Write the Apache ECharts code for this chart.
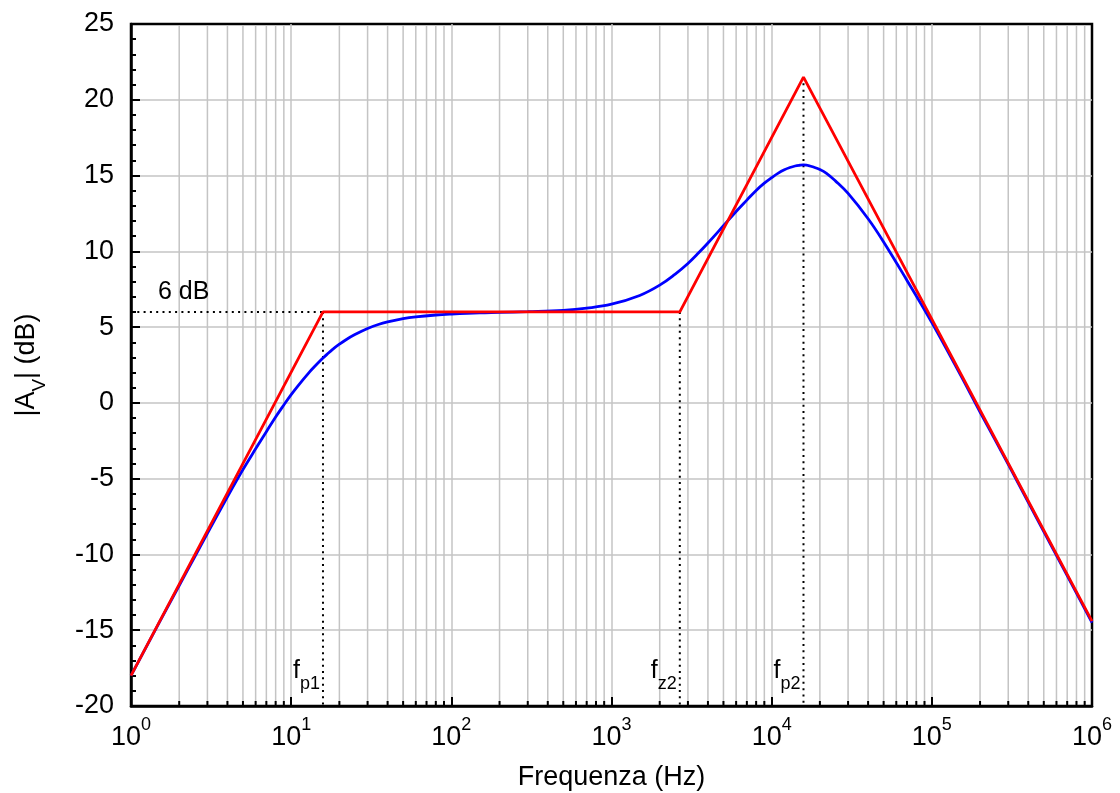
<!DOCTYPE html>
<html>
<head>
<meta charset="utf-8">
<script src="https://cdn.jsdelivr.net/npm/echarts@6/dist/echarts.min.js"></script>
<style>
  html, body { margin: 0; background: #fff; }
  #chart { width: 1120px; height: 793px; }
</style>
</head>
<body>
<div id="chart"></div>
<script>
// frequenze (Hz) e guadagno reale (dB)
var freqReal = [1, 1.5, 2, 2.5, 3, 4, 5, 6, 7, 8, 9, 10, 11, 13, 14, 15.8, 17, 18, 20, 22, 25, 30, 35, 40,
  50, 60, 80, 100, 150, 200, 300, 500, 700, 1000, 1500, 2000, 2500, 3000, 3500, 4000, 5000, 6000, 7000,
  8000, 9000, 10000, 11000, 12000, 13000, 14000, 15000, 15800, 16500, 17000, 18000, 20000, 22000, 25000, 30000,
  40000, 50000, 70000, 100000, 150000, 200000, 300000, 500000, 700000, 1000000];
var gainReal = [-18.0, -14.5, -12.05, -10.15, -8.6, -6.2, -4.4, -3.03, -1.9, -0.93, -0.14, 0.54, 1.11, 2.03, 2.4, 2.96, 3.27, 3.5, 3.87, 4.17, 4.51, 4.91, 5.17, 5.34,
  5.56, 5.68, 5.8, 5.86, 5.94, 5.97, 6.02, 6.11, 6.25, 6.51, 7.09, 7.77, 8.5, 9.2, 9.9, 10.55, 11.69, 12.63, 13.38,
  14.02, 14.5, 14.86, 15.16, 15.38, 15.53, 15.63, 15.68, 15.7, 15.69, 15.66, 15.58, 15.4, 15.15, 14.65, 13.82,
  12.15, 10.62, 8.08, 5.3, 1.9, -0.6, -4.05, -8.5, -11.4, -14.5];

// diagramma asintotico
var freqAsym = [1, 15.8, 2670, 15800, 1000000];
var gainAsym = [-18, 6, 6, 21.5, -14.4];

// frequenze notevoli
var fp1 = 15.8, fz2 = 2670, fp2 = 15800;
var midGain = 6, peakGain = 21.5;

var yMin = -20, yMax = 25, yStep = 5;
var decades = [1, 10, 100, 1000, 10000, 100000];
var mantissas = [2, 3, 4, 5, 6, 7, 8, 9];

var FONT = '"Liberation Sans", Arial, Helvetica, sans-serif';

var minorFreqs = [];
decades.forEach(function (d) {
  mantissas.forEach(function (m) { minorFreqs.push([d * m, 0]); });
});

function pairs(xs, ys) {
  return xs.map(function (x, i) { return [x, ys[i]]; });
}

function guide(points) {
  return {
    type: 'line', data: points, symbol: 'none', silent: true, z: 2,
    lineStyle: { color: '#000', width: 2, type: [2, 4.3] }
  };
}

var chart = echarts.init(document.getElementById('chart'));

chart.setOption({
  animation: false,
  grid: {
    left: 131, right: 28, top: 24, bottom: 87, outerBoundsMode: 'none', containLabel: false,
    show: true, borderColor: '#000', borderWidth: 2.5, backgroundColor: 'transparent'
  },
  xAxis: {
    type: 'log', logBase: 10, min: 1, max: 1000000,
    name: 'Frequenza (Hz)', nameLocation: 'middle', nameGap: 58,
    nameTextStyle: { fontFamily: FONT, fontSize: 27, color: '#000' },
    axisLine: { show: true, onZero: false, lineStyle: { color: '#000', width: 2.5 } },
    axisTick: { show: true, inside: true, length: 9, lineStyle: { color: '#000', width: 2 } },
    splitLine: { show: true, showMinLine: false, showMaxLine: false, lineStyle: { color: '#c4c4c4', width: 1.5 } },
    axisLabel: {
      margin: 10, showMinLabel: true, showMaxLabel: true,
      formatter: function (v) {
        return '{b|10}{e|' + Math.round(Math.log10(v)) + '}';
      },
      rich: {
        b: { fontFamily: FONT, fontSize: 27, color: '#000', lineHeight: 35, verticalAlign: 'bottom' },
        e: { fontFamily: FONT, fontSize: 18, color: '#000', lineHeight: 35, verticalAlign: 'top' }
      }
    }
  },
  yAxis: {
    type: 'value', min: yMin, max: yMax, interval: yStep,
    name: '{a||A}{s|V}{a|| (dB)}', nameLocation: 'middle', nameGap: 82, nameRotate: 90,
    nameTextStyle: {
      rich: {
        a: { fontFamily: FONT, fontSize: 27, color: '#000', lineHeight: 36, verticalAlign: 'top' },
        s: { fontFamily: FONT, fontSize: 19, color: '#000', lineHeight: 36, verticalAlign: 'bottom' }
      }
    },
    axisLine: { show: true, onZero: false, lineStyle: { color: '#000', width: 2.5 } },
    axisTick: { show: true, inside: true, length: 9, lineStyle: { color: '#000', width: 2 } },
    minorTick: { show: true, splitNumber: 5, length: 5, lineStyle: { color: '#000', width: 2 } },
    splitLine: { show: true, showMinLine: false, showMaxLine: false, lineStyle: { color: '#c4c4c4', width: 1.5 } },
    axisLabel: { margin: 17, fontFamily: FONT, fontSize: 27, color: '#000' }
  },
  series: [
    {
      // griglia secondaria e tacche minori dell'asse logaritmico
      type: 'custom', z: 1, silent: true, data: minorFreqs,
      renderItem: function (params, api) {
        var f = api.value(0);
        var top = api.coord([f, yMax]);
        var bot = api.coord([f, yMin]);
        return {
          type: 'group',
          children: [
            { type: 'line', shape: { x1: top[0], y1: top[1] + 2, x2: bot[0], y2: bot[1] - 2 },
              style: { stroke: '#c4c4c4', lineWidth: 1.5 } },
            { type: 'line', shape: { x1: bot[0], y1: bot[1], x2: bot[0], y2: bot[1] - 5 },
              style: { stroke: '#000', lineWidth: 2 } }
          ]
        };
      }
    },
    guide([[1, midGain], [fp1, midGain]]),
    guide([[fp1, midGain], [fp1, yMin]]),
    guide([[fz2, midGain], [fz2, yMin]]),
    guide([[fp2, peakGain], [fp2, yMin]]),
    {
      type: 'line', data: pairs(freqReal, gainReal), symbol: 'none', smooth: 0.4, z: 3,
      lineStyle: { color: '#0000ff', width: 2.8 }
    },
    {
      type: 'line', data: pairs(freqAsym, gainAsym), symbol: 'none', z: 4,
      lineStyle: { color: '#ff0000', width: 2.8 }
    },
    {
      type: 'scatter', symbolSize: 0, z: 5, silent: true,
      itemStyle: { opacity: 1 },
      data: [
        { value: [1, midGain], label: { show: true, position: [27, -32], formatter: '6 dB',
          fontFamily: FONT, fontSize: 25, color: '#000', opacity: 1 } },
        { value: [fp1, -18], name: 'p1' },
        { value: [fz2, -18], name: 'z2' },
        { value: [fp2, -18], name: 'p2' }
      ],
      label: {
        show: true, position: 'left', distance: 3, opacity: 1,
        formatter: function (p) { return '{f|f}{s|' + p.name + '}'; },
        rich: {
          f: { fontFamily: FONT, fontSize: 25, color: '#000', lineHeight: 34, verticalAlign: 'top' },
          s: { fontFamily: FONT, fontSize: 18, color: '#000', lineHeight: 34, verticalAlign: 'bottom' }
        }
      }
    }
  ]
});
</script>
</body>
</html>
